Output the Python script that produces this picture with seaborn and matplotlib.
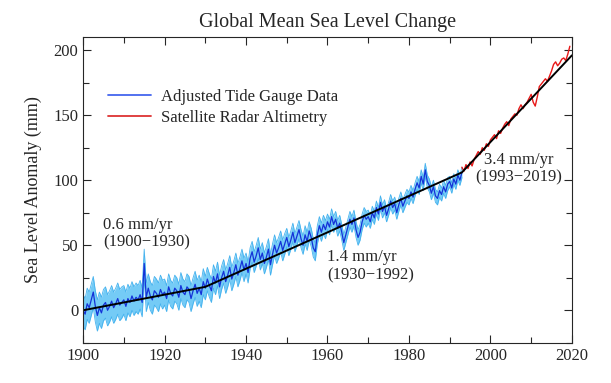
import numpy as np
import pandas as pd
import matplotlib
matplotlib.use('Agg')
import matplotlib.pyplot as plt
from matplotlib.ticker import MultipleLocator
import seaborn as sns

# ---- data (mm) ----
# tide gauge, every half year 1900.0 .. 1993.0
gauge_years = np.arange(1900, 1993.01, 0.5)
gauge_mm = [
    0, -3, 5, 2, 8, 14, 3, -4, 2, -2, 4, 6, 0, 3, 7, 2, 5, 9, 4, 6,
    8, 3, 9, 6, 11, 7, 10, 8, 12, 6, 36, 10, 17, 11, 8, 15, 13, 10, 16, 12,
    14, 9, 18, 13, 11, 17, 15, 10, 19, 14, 12, 18, 16, 9, 15, 20, 13, 17, 12, 22,
    17, 24, 19, 15, 26, 21, 28, 18, 25, 30, 22, 27, 33, 24, 29, 35, 27, 32, 38, 31,
    36, 29, 40, 45, 37, 42, 48, 39, 44, 36, 41, 47, 35, 43, 50, 44, 48, 53, 46, 51,
    56, 49, 54, 60, 52, 57, 62, 55, 50, 58, 53, 61, 56, 48, 45, 58, 65, 60, 66, 62,
    68, 64, 72, 66, 70, 63, 67, 60, 52, 58, 64, 70, 66, 71, 62, 56, 60, 68, 73, 70,
    72, 68, 75, 71, 79, 74, 83, 76, 80, 73, 78, 84, 79, 82, 75, 81, 86, 80, 84, 88,
    86, 91, 87, 93, 98, 94, 103, 97, 108, 99, 96, 90, 95, 88, 86, 92, 89, 95, 91, 97,
    99, 94, 101, 97, 104, 100, 106,
]
# half-width of the uncertainty band, one value per decade (1900s .. 1990s)
gauge_err_by_decade = [12, 11, 10, 9, 8, 7, 6, 5, 5, 4]

# satellite altimetry, every half year 1993.0 .. 2019.5
sat_years = np.arange(1993, 2019.51, 0.5)
sat_mm = [
    110, 107, 112, 109, 114, 111, 116, 119, 122, 120,
    125, 123, 128, 126, 131, 133, 135, 132, 138, 136,
    140, 143, 145, 142, 147, 149, 151, 150, 155, 158,
    155, 158, 160, 163, 166, 160, 157, 164, 172, 174,
    176, 178, 176, 180, 184, 189, 191, 188, 190, 193,
    194, 192, 197, 203,
]

# piecewise linear trend
trend_years = [1900, 1930, 1993, 2020]
trend_mm = [0, 18, 106, 196]

rates = ['0.6 mm/yr\n(1900\u22121930)', '1.4 mm/yr\n(1930\u22121992)', '3.4 mm/yr\n(1993\u22122019)']
rate_pos = [(1905, 72), (1960, 47), (2007, 122)]
rate_align = ['left', 'left', 'center']

# ---- frames ----
gauge = pd.DataFrame({'year': gauge_years, 'mm': gauge_mm})
gauge['err'] = [gauge_err_by_decade[min(int((y - 1900) // 10), 9)] for y in gauge['year']]
sat = pd.DataFrame({'year': sat_years, 'mm': sat_mm})
trend = pd.DataFrame({'year': trend_years, 'mm': trend_mm})

sns.set_theme(style='ticks')
plt.rcParams['font.family'] = ['Liberation Serif', 'DejaVu Serif']

fig = plt.figure(figsize=(6.11, 3.83), dpi=100)
ax = fig.add_axes([0.136, 0.105, 0.800, 0.798])

# uncertainty band
ax.fill_between(gauge['year'], gauge['mm'] - gauge['err'], gauge['mm'] + gauge['err'],
                color='#74cbf6', lw=0)
ax.plot(gauge['year'], gauge['mm'] - gauge['err'], color='#45b2ee', lw=0.6)
ax.plot(gauge['year'], gauge['mm'] + gauge['err'], color='#45b2ee', lw=0.6)

sns.lineplot(data=gauge, x='year', y='mm', ax=ax, color='#1432d8', lw=0.9,
             label='Adjusted Tide Gauge Data')
sns.lineplot(data=sat, x='year', y='mm', ax=ax, color='#e81818', lw=1.0,
             label='Satellite Radar Altimetry')
sns.lineplot(data=trend, x='year', y='mm', ax=ax, color='black', lw=1.4)

for txt, (x, y), al in zip(rates, rate_pos, rate_align):
    ax.text(x, y, txt, ha=al, va='top', multialignment=al, fontsize=12, linespacing=1.15)

ax.set_xlim(1900, 2020)
ax.set_ylim(-25, 210)
ax.xaxis.set_major_locator(MultipleLocator(20))
ax.xaxis.set_minor_locator(MultipleLocator(10))
ax.yaxis.set_major_locator(MultipleLocator(50))
ax.yaxis.set_minor_locator(MultipleLocator(25))
ax.tick_params(which='both', direction='in', top=True, right=True, labelsize=12, width=0.8)
ax.tick_params(which='major', length=6)
ax.tick_params(which='minor', length=4)
for s in ax.spines.values():
    s.set_linewidth(0.8)

ax.set_xlabel('')
ax.set_ylabel('Sea Level Anomaly (mm)', fontsize=13, labelpad=8)
ax.set_title('Global Mean Sea Level Change', fontsize=14.5, pad=7)

leg = ax.legend(loc='upper left', bbox_to_anchor=(0.02, 0.88), frameon=False,
                fontsize=12, handlelength=2.6, labelspacing=0.3, handletextpad=0.6)
leg.get_lines()[0].set_color('#4466ee')
leg.get_lines()[1].set_color('#dd3333')
for h in leg.get_lines():
    h.set_linewidth(1.3)

fig.savefig('out.png', dpi=100)
